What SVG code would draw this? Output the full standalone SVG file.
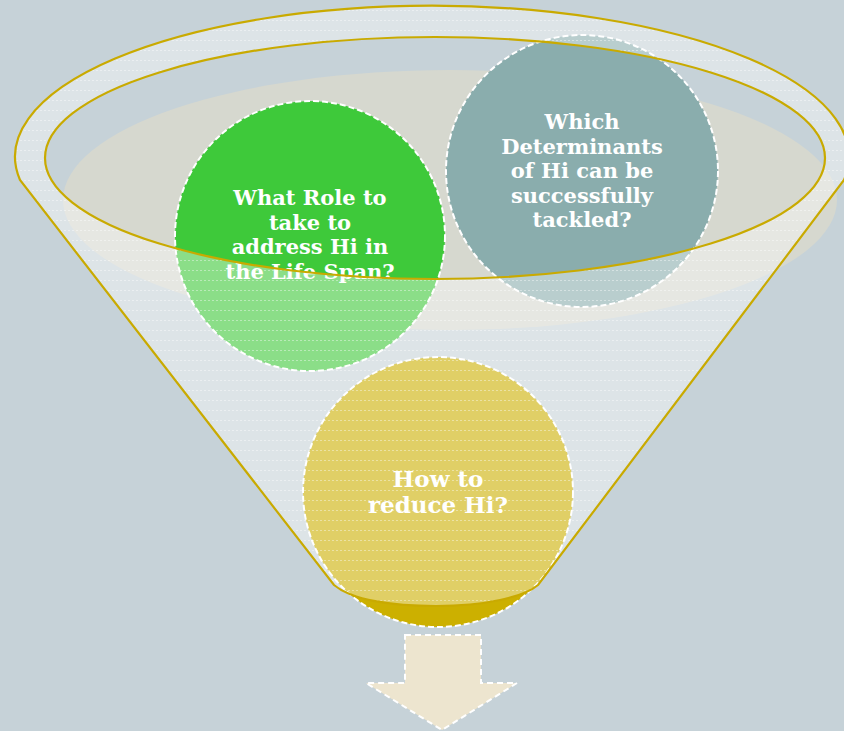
<svg xmlns="http://www.w3.org/2000/svg" width="844" height="731" viewBox="0 0 844 731">
<defs>
<style>
.t{font-family:"DejaVu Serif","Liberation Serif",serif;font-weight:bold;fill:#ffffff;text-anchor:middle}
.dash{fill:none;stroke:#ffffff;stroke-width:2;stroke-dasharray:6 3}
.gold{fill:none;stroke:#c9aa00;stroke-width:2.2}
</style>
<pattern id="hatch" width="4" height="10" patternUnits="userSpaceOnUse">
<rect x="0" y="0" width="2" height="1" fill="#ffffff" opacity="0.4"/>
</pattern>
</defs>
<rect width="844" height="731" fill="#c6d2d8"/>
<ellipse cx="450" cy="200" rx="387" ry="130" fill="#d6d8cf"/>

<g id="node-reduce">
<circle cx="438" cy="492" r="135" fill="#ccb000"/>
<circle cx="438" cy="492" r="135" class="dash"/>
<text class="t" font-size="23" x="438" y="487">How to</text>
<text class="t" font-size="23" x="438" y="513">reduce Hi?</text>
</g>
<g id="node-role">
<circle cx="310" cy="236" r="135" fill="#3ec93a"/>
<circle cx="310" cy="236" r="135" class="dash"/>
<text class="t" font-size="21" x="310" y="205">What Role to</text>
<text class="t" font-size="21" x="310" y="229.500">take to</text>
<text class="t" font-size="21" x="310" y="254">address Hi in</text>
<text class="t" font-size="21" x="310" y="278.500">the Life Span?</text>
</g>
<g id="node-determinants">
<circle cx="582" cy="171" r="136" fill="#8aadad"/>
<circle cx="582" cy="171" r="136" class="dash"/>
<text class="t" font-size="21" x="582" y="129">Which</text>
<text class="t" font-size="21" x="582" y="154">Determinants</text>
<text class="t" font-size="21" x="582" y="178">of Hi can be</text>
<text class="t" font-size="21" x="582" y="203">successfully</text>
<text class="t" font-size="21" x="582" y="227">tackled?</text>
</g>

<g id="funnel">
<path fill-rule="evenodd" fill="#ffffff" fill-opacity="0.4" d="M20,180 A417,151 0 1 1 844,180 L538,585 C524,597 485,606 436,606 C392,606 352,600 334,585 Z M45,158 A390,121 0 1 0 825,158 A390,121 0 1 0 45,158 Z"/>
<path fill-rule="evenodd" fill="url(#hatch)" d="M20,180 A417,151 0 1 1 844,180 L538,585 C524,597 485,606 436,606 C392,606 352,600 334,585 Z M45,158 A390,121 0 1 0 825,158 A390,121 0 1 0 45,158 Z"/>
<path class="gold" d="M20,180 A417,151 0 1 1 844,180 L538,585 C524,597 485,606 436,606 C392,606 352,600 334,585 Z"/>
<ellipse class="gold" cx="435" cy="158" rx="390" ry="121"/>
</g>

<g id="connectors">
<path d="M405,635 H481 V683 H517 L442,730 L366,683 H405 Z" fill="#ede5cf" stroke="#ffffff" stroke-width="2" stroke-dasharray="6 4"/>
</g>
</svg>
